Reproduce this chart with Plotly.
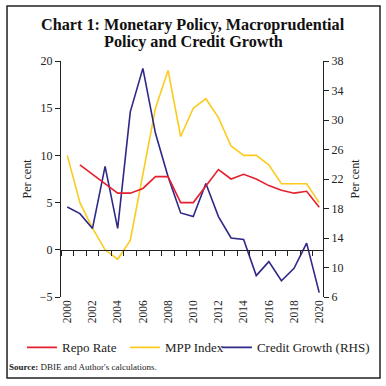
import plotly.graph_objects as go

years = list(range(2000, 2021))
repo_years = list(range(2001, 2021))
repo_rate = [9, 8, 7, 6, 6, 6.5, 7.75, 7.75, 5, 5, 6.75, 8.5, 7.5, 8.0, 7.5, 6.8, 6.3, 6.0, 6.2, 4.5]
mpp_index = [10, 5, 2.3, 0, -1, 1, 8, 15, 19, 12, 15, 16, 14, 11, 10, 10, 9, 7, 7, 7, 5]
credit_growth = [18.2, 17.3, 15.3, 23.7, 15.3, 31.1, 37.0, 28.2, 22.3, 17.4, 16.9, 21.4, 16.9, 14.0, 13.8,
                 8.9, 10.8, 8.2, 9.9, 13.3, 6.6]
x_tick_labels = [str(y) for y in range(2000, 2021, 2)]

FONT = "Liberation Serif"
RED = "#e5202e"
YELLOW = "#fbcb1e"
BLUE = "#2e2888"

fig = go.Figure()
fig.add_trace(go.Scatter(x=repo_years, y=repo_rate, name="Repo Rate", mode="lines",
                         line=dict(color=RED, width=1.6), xaxis="x2", yaxis="y",
                         legend="legend", legendwidth=58))
fig.add_trace(go.Scatter(x=years, y=mpp_index, name="MPP Index", mode="lines",
                         line=dict(color=YELLOW, width=1.6), yaxis="y",
                         legend="legend", legendwidth=58))
fig.add_trace(go.Scatter(x=years, y=credit_growth, name="Credit Growth (RHS)", mode="lines",
                         line=dict(color=BLUE, width=1.6), yaxis="y2", legend="legend2"))

xr = [1999.5, 2020.3]
leg_common = dict(orientation="h", y=-0.15, xanchor="left", yanchor="top",
                  font=dict(size=13, family=FONT, color="#222"), itemwidth=30,
                  tracegroupgap=0, bgcolor="rgba(0,0,0,0)")
fig.update_layout(
    width=386, height=386,
    margin=dict(l=61, r=63, t=61, b=89, autoexpand=False),
    paper_bgcolor="white", plot_bgcolor="white",
    font=dict(family=FONT, size=11, color="#222"),
    showlegend=True,
    legend=dict(x=-0.149, **leg_common),
    legend2=dict(x=0.595, **leg_common),
    xaxis=dict(range=xr, showline=False, showgrid=False, zeroline=False,
               tickmode="array", tickvals=list(range(2000, 2021, 2)), ticktext=x_tick_labels,
               tickangle=-90, ticks="", tickfont=dict(size=11.5)),
    xaxis2=dict(range=xr, overlaying="x", anchor="free", position=0.2, side="bottom",
                showline=True, linecolor="#222", linewidth=1, showgrid=False, zeroline=False,
                ticks="outside", ticklen=5, tickcolor="#222", tick0=1999.5, dtick=1,
                showticklabels=False),
    yaxis=dict(range=[-5, 20], tick0=-5, dtick=5, showline=True, linecolor="#222", linewidth=1,
               ticks="outside", ticklen=5, tickcolor="#222", showgrid=False, zeroline=False,
               title=dict(text="Per cent", font=dict(size=12), standoff=5),
               tickfont=dict(size=12)),
    yaxis2=dict(range=[6, 38], tick0=6, dtick=4, overlaying="y", side="right",
                showline=True, linecolor="#222", linewidth=1, ticks="outside", ticklen=5,
                tickcolor="#222", showgrid=False, zeroline=False,
                title=dict(text="Per cent", font=dict(size=12), standoff=8),
                tickfont=dict(size=12)),
)

fig.add_annotation(text="<b>Chart 1: Monetary Policy, Macroprudential</b>",
                   xref="paper", yref="paper", x=0.504, y=1.1525, xanchor="center", yanchor="middle",
                   showarrow=False, font=dict(family=FONT, size=16.2, color="#111"))
fig.add_annotation(text="<b>Policy and Credit Growth</b>",
                   xref="paper", yref="paper", x=0.504, y=1.0805, xanchor="center", yanchor="middle",
                   showarrow=False, font=dict(family=FONT, size=16.2, color="#111"))
fig.add_annotation(text="<b>Source:</b> DBIE and Author's calculations.",
                   xref="paper", yref="paper", x=-0.205, y=-0.297, xanchor="left", yanchor="middle",
                   showarrow=False, font=dict(family=FONT, size=9, color="#222"))
fig.add_shape(type="rect", xref="paper", yref="paper", x0=-0.206, x1=1.2176, y0=-0.343, y1=1.233,
              line=dict(color="#222", width=1.5))

fig.write_html("out.html", config={"displayModeBar": False},
               post_script="document.body.style.margin='0px';")
